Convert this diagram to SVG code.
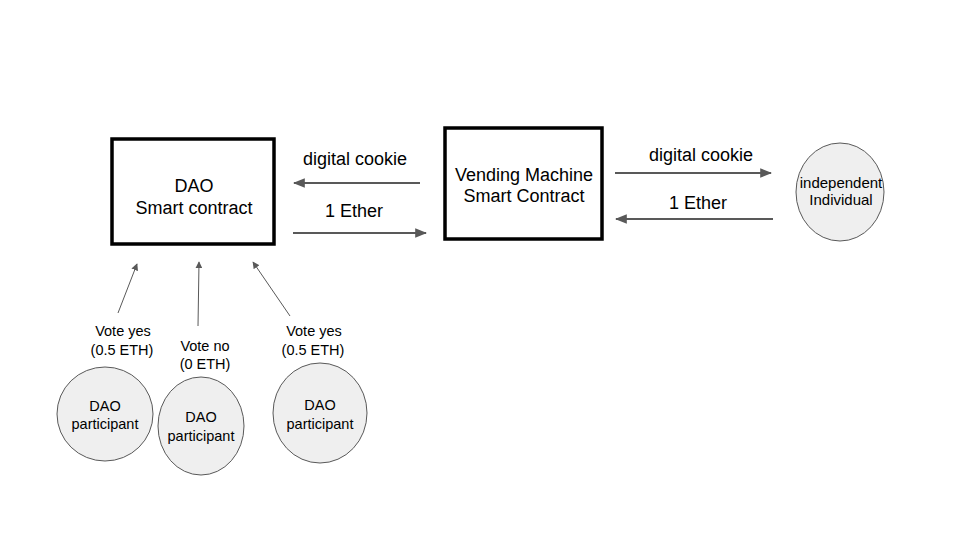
<svg xmlns="http://www.w3.org/2000/svg" width="960" height="540" viewBox="0 0 960 540">
<style>
text{font-family:"Liberation Sans",Arial,sans-serif;fill:#000;text-anchor:middle}
.box{fill:#fff;stroke:#000;stroke-width:3.5}
.circ{fill:#efefef;stroke:#595959;stroke-width:1}
.big{font-size:18px}
.sm{font-size:14.5px}
.ind{font-size:15px}
.main{stroke:#595959;stroke-width:2;fill:none}
.thin{stroke:#595959;stroke-width:1;fill:none}
</style>
<defs>
<marker id="ah" viewBox="0 0 10 10" refX="9" refY="5" markerWidth="6" markerHeight="6" orient="auto" markerUnits="strokeWidth"><path d="M0,1 L10,5 L0,9 z" fill="#595959"/></marker>
<marker id="ahs" viewBox="0 0 10 10" refX="9" refY="5" markerWidth="7" markerHeight="7" orient="auto" markerUnits="strokeWidth"><path d="M0,0 L10,5 L0,10 z" fill="#595959"/></marker>
</defs>
<rect width="960" height="540" fill="#fff"/>
<g id="dao">
<rect class="box" x="112" y="139" width="162" height="105"/>
<text class="big" x="194" y="192">DAO</text>
<text class="big" x="194" y="214">Smart contract</text>
</g>
<g id="vending">
<rect class="box" x="445" y="128" width="157" height="111"/>
<text class="big" x="524" y="181">Vending Machine</text>
<text class="big" x="524" y="202">Smart Contract</text>
</g>
<g id="individual">
<ellipse class="circ" cx="840" cy="192" rx="44" ry="49"/>
<text class="ind" x="841" y="188">independent</text>
<text class="ind" x="841" y="205">Individual</text>
</g>
<g id="p1">
<ellipse class="circ" cx="105" cy="414" rx="48" ry="47"/>
<text class="sm" x="105" y="411">DAO</text>
<text class="sm" x="105" y="429">participant</text>
</g>
<g id="p2">
<ellipse class="circ" cx="201" cy="426" rx="43" ry="49"/>
<text class="sm" x="201" y="422">DAO</text>
<text class="sm" x="201" y="441">participant</text>
</g>
<g id="p3">
<ellipse class="circ" cx="320" cy="413" rx="47" ry="50"/>
<text class="sm" x="320" y="410">DAO</text>
<text class="sm" x="320" y="429">participant</text>
</g>
<g id="connectors">
<line class="main" x1="420" y1="183" x2="294" y2="183" marker-end="url(#ah)"/>
<line class="main" x1="293" y1="233" x2="426" y2="233" marker-end="url(#ah)"/>
<line class="main" x1="615" y1="173" x2="771" y2="173" marker-end="url(#ah)"/>
<line class="main" x1="773" y1="219" x2="616" y2="219" marker-end="url(#ah)"/>
<line class="thin" x1="118" y1="313" x2="137" y2="264" marker-end="url(#ahs)"/>
<line class="thin" x1="198" y1="326" x2="199" y2="262" marker-end="url(#ahs)"/>
<line class="thin" x1="290" y1="316" x2="253" y2="262" marker-end="url(#ahs)"/>
<text class="big" x="355" y="165">digital cookie</text>
<text class="big" x="354" y="217">1 Ether</text>
<text class="big" x="701" y="161">digital cookie</text>
<text class="big" x="698" y="209">1 Ether</text>
<text class="sm" x="123" y="336">Vote yes</text>
<text class="sm" x="122" y="355">(0.5 ETH)</text>
<text class="sm" x="205" y="351">Vote no</text>
<text class="sm" x="205" y="369">(0 ETH)</text>
<text class="sm" x="314" y="336">Vote yes</text>
<text class="sm" x="313" y="355">(0.5 ETH)</text>
</g>
</svg>
